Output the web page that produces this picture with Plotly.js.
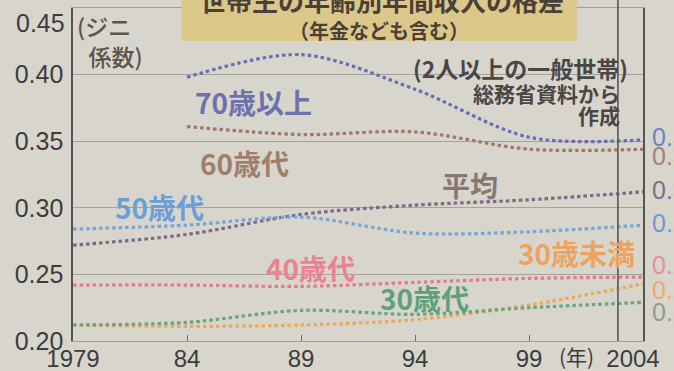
<!DOCTYPE html>
<html><head><meta charset="utf-8">
<script src="https://cdn.plot.ly/plotly-3.0.1.min.js"></script>
<style>html,body{margin:0;padding:0;background:#d8d5cd;}#chart{width:674px;height:371px;}</style>
</head><body><div id="chart"></div>
<script>
// ---- data (Gini coefficient by age of household head) ----
const years = [1979, 1984, 1989, 1994, 1999, 2004];
const xTickText = ['1979', '84', '89', '94', '99', '2004\u00a0\u00a0\u00a0'];
const yTickVals = [0.20, 0.25, 0.30, 0.35, 0.40];
const yTickText = ['0.20', '0.25', '0.30', '0.35', '0.40'];
const yTopLabel = '0.45';

const seriesNames = ['70歳以上', '60歳代', '平均', '50歳代', '40歳代', '30歳未満', '30歳代'];
const over70   = [null, 0.398, 0.415, 0.389, 0.353, 0.351];
const age60s   = [null, 0.361, 0.355, 0.357, 0.344, 0.344];
const average  = [0.272, 0.280, 0.295, 0.302, 0.306, 0.312];
const age50s   = [0.284, 0.287, 0.293, 0.281, 0.282, 0.287];
const age40s   = [0.242, 0.242, 0.241, 0.244, 0.247, 0.248];
const under30  = [0.212, 0.211, 0.212, 0.216, 0.227, 0.243];
const age30s   = [0.212, 0.214, 0.223, 0.220, 0.225, 0.229];
const seriesValues = [over70, age60s, average, age50s, age40s, under30, age30s];

// ---- styles ----
const lineColors  = ['#6a6cb4', '#a07866', '#7c6a86', '#78a4d6', '#e27c8c', '#e9aa5e', '#6fa37e'];
const labelColors = ['#6c72ae', '#a07e6c', '#857874', '#6c9fd8', '#ea8290', '#eda35e', '#5f9f7a'];
const valueColors = ['#6a84c6', '#a38272', '#7a7088', '#6c9ad0', '#e8909a', '#e9a970', '#8aa090'];
// inline label positions (data coords) and right-edge value label pixel shifts
const labelX = [1986.9, 1986.5, 1996.4, 1982.8, 1989.4, 2001.1, 1994.4];
const labelY = [0.3794, 0.3336, 0.3171, 0.3006, 0.2548, 0.2661, 0.2323];
const valueShift = [3, -7, 2, 2, 12, -6, -10];

const traces = seriesValues.map((vals, i) => ({
  x: years, y: vals, type: 'scatter', mode: 'lines', name: seriesNames[i],
  line: {color: lineColors[i], width: 3.2, dash: '3.5px,3px', shape: 'spline', smoothing: 0.9},
  connectgaps: false, hoverinfo: 'skip', cliponaxis: false
}));

const cjk = '"Noto Sans CJK JP", "Noto Sans", sans-serif';
const num = 'Liberation Sans, Arial, sans-serif';
const annotations = [];
seriesNames.forEach((n, i) => {
  annotations.push({x: labelX[i], y: labelY[i], xref: 'x', yref: 'y', text: n, showarrow: false,
    xanchor: 'center', yanchor: 'middle', font: {family: cjk, size: 28, color: labelColors[i], weight: 700}});
  const last = seriesValues[i][seriesValues[i].length - 1];
  annotations.push({x: 1.013, y: last, xref: 'paper', yref: 'y', yshift: valueShift[i], text: last.toFixed(3),
    showarrow: false, xanchor: 'left', yanchor: 'middle',
    font: {family: num, size: 25, color: valueColors[i]}});
});
// top y label (drawn slightly below its gridline, as in the print)
annotations.push({x: 0, y: 0.45, xref: 'paper', yref: 'y', yshift: -15, xshift: -6, text: yTopLabel, showarrow: false,
  xanchor: 'right', yanchor: 'middle', font: {family: num, size: 25, color: '#3c3c3c'}});
// axis unit labels
annotations.push({x: 0.004, y: 0.90, xref: 'paper', yref: 'paper', text: '(ジニ<br>\u2002係数)', showarrow: false,
  xanchor: 'left', yanchor: 'middle', align: 'left', font: {family: cjk, size: 23, color: '#5a5550', weight: 500}});
annotations.push({x: 2001.1, y: -0.046, xref: 'x', yref: 'paper', text: '(年)', showarrow: false,
  xanchor: 'center', yanchor: 'middle', font: {family: cjk, size: 21, color: '#3c3c3c'}});
// title
annotations.push({x: 0.542, y: 1.026, xref: 'paper', yref: 'paper', text: '世帯主の年齢別年間収入の格差', showarrow: false,
  xanchor: 'center', yanchor: 'middle', font: {family: cjk, size: 26, color: '#4a4038', weight: 700}});
annotations.push({x: 0.537, y: 0.931, xref: 'paper', yref: 'paper', text: '（年金なども含む）', showarrow: false,
  xanchor: 'center', yanchor: 'middle', font: {family: cjk, size: 20, color: '#4a4038', weight: 700}});
// source note
const noteLines = ['(2人以上の一般世帯)', '総務省資料から', '作成'];
const noteY = [0.821, 0.745, 0.679];
const noteX = [0.977, 0.963, 0.963];
const noteSize = [23, 21, 21];
noteLines.forEach((t, i) => annotations.push({x: noteX[i], y: noteY[i], xref: 'paper', yref: 'paper', text: t,
  showarrow: false, xanchor: 'right', yanchor: 'middle', font: {family: cjk, size: noteSize[i], color: '#4a4644', weight: 700}}));

const layout = {
  width: 674, height: 371,
  margin: {l: 73, r: 31, t: 8, b: 30},
  paper_bgcolor: '#d8d5cd', plot_bgcolor: '#d8d5cd',
  showlegend: false,
  xaxis: {range: [1979, 2004], tickvals: years, ticktext: xTickText, ticks: 'inside', ticklen: 6,
    tickcolor: '#6a6a6a', showgrid: false, zeroline: false, showline: true, mirror: true,
    linecolor: '#a3a09a', linewidth: 1.2, ticklabelstandoff: -4, ticklabeloverflow: 'allow',
    tickfont: {family: num, size: 24, color: '#3c3c3c'}},
  yaxis: {range: [0.2, 0.45], tickvals: yTickVals, ticktext: yTickText, ticks: '', showgrid: true,
    gridcolor: '#a5a29b', gridwidth: 1.2, zeroline: false, showline: true, mirror: true,
    linecolor: '#555555', linewidth: 1.6, ticklabelstandoff: 3,
    tickfont: {family: num, size: 25, color: '#3c3c3c'}},
  shapes: [
    {type: 'rect', xref: 'paper', yref: 'paper', x0: 0.191, x1: 0.884, y0: 0.901, y1: 1.05,
      fillcolor: '#dcc78b', line: {width: 0}, layer: 'above'},
    {type: 'line', xref: 'x', yref: 'paper', x0: 2002.9, x1: 2002.9, y0: 0, y1: 1.03,
      line: {color: '#5a5854', width: 1.6}, layer: 'above'}
  ],
  annotations: annotations
};
Plotly.newPlot('chart', traces, layout, {staticPlot: true, displayModeBar: false});
</script></body></html>
